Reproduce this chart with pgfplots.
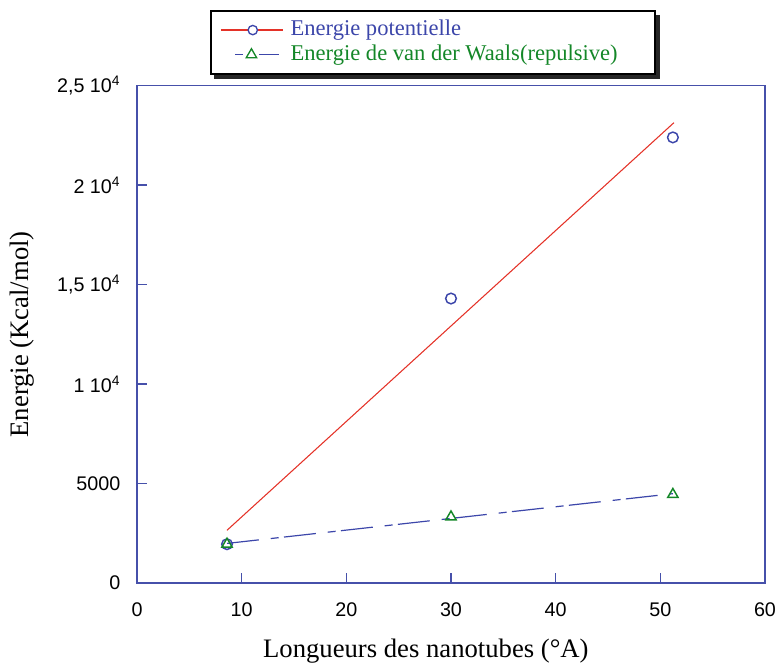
\documentclass[border=0pt]{standalone}
\usepackage{pgfplots}
\pgfplotsset{compat=1.18}
\usepackage{fontspec}
\setmainfont{Liberation Serif}
\newfontfamily\arialf{Liberation Sans}
\usetikzlibrary{backgrounds}
\definecolor{axblue}{RGB}{70,80,170}
\definecolor{mblue}{RGB}{60,70,170}
\definecolor{mgreen}{RGB}{20,135,40}
\definecolor{lred}{RGB}{228,50,40}
\begin{document}
\begin{tikzpicture}
\begin{axis}[name=ax, scale only axis, width=471pt, height=373pt,
  xmin=0, xmax=60, ymin=0, ymax=25000,
  xtick={0,10,20,30,40,50,60},
  xticklabels={0,10,20,30,40,50,60},
  ytick={0,5000,10000,15000,20000,25000},
  yticklabels={0,5000,{1 10\textsuperscript{4}},{1,5 10\textsuperscript{4}},{2 10\textsuperscript{4}},{2,5 10\textsuperscript{4}}},
  scaled ticks=false,
  tick label style={font=\arialf\fontsize{14.8}{17}\selectfont, text=black},
  xticklabel style={yshift=-11pt},
  yticklabel style={xshift=-9pt},
  axis line style={axblue, line width=1.1pt},
  tick style={axblue, line width=1.1pt},
  major tick length=7.5pt,
  tick align=inside, xtick pos=left, ytick pos=left,
  every axis x label/.style={at={(axis description cs:0.46,-0.136)}, anchor=center},
  every axis y label/.style={at={(axis description cs:-0.183,0.5)}, rotate=90, anchor=center},
  label style={font=\fontsize{20}{24}\selectfont},
  xlabel={Longueurs des nanotubes (°A)},
  ylabel={Energie (Kcal/mol)},
  legend style={at={(axis description cs:0.116,1.152)}, anchor=north west,
    name=leg,
    draw=black, line width=1.5pt, fill=white,
    font=\fontsize{16.9}{19}\selectfont,
    inner xsep=7pt, inner ysep=5pt,
    nodes={inner sep=1pt, text height=12.5pt, text depth=4pt},
    row sep=0pt,
    /tikz/every odd column/.append style={column sep=4pt}},
  legend cell align=left,
]
\addplot[only marks, mark=o, mark size=4pt, mark options={mblue, line width=1.1pt}, forget plot]
  coordinates {(8.6,1950) (30,14300) (51.2,22400)};
\addplot[lred, line width=0.8pt, forget plot]
  coordinates {(8.6,2650) (51.3,23140)};
\addplot[mblue, line width=0.9pt, dash pattern=on 24pt off 9pt on 6pt off 4pt, forget plot]
  coordinates {(8.6,1990) (51.2,4490)};
\addplot[only marks, mark=triangle, mark size=4.5pt, mark options={mgreen, line width=1.1pt}, forget plot]
  coordinates {(8.6,1950) (30,3320) (51.2,4450)};

\addlegendimage{legend image code/.code={
  \draw[lred, line width=0.9pt] (1pt,0pt) -- (48pt,0pt);
  \draw[mblue, line width=1pt, fill=white] (25pt,0pt) circle (3.5pt);}}
\addlegendentry{\textcolor{mblue}{Energie potentielle}}
\addlegendimage{legend image code/.code={
  \draw[mblue, line width=0.9pt] (12pt,0pt) -- (18pt,0pt);
  \draw[mblue, line width=0.9pt] (30pt,0pt) -- (45pt,0pt);
  \draw[mgreen, line width=1pt] plot[mark=triangle, mark size=4.5pt, only marks] coordinates {(24pt,0pt)};}}
\addlegendentry{\textcolor{mgreen}{Energie de van der Waals(repulsive)}\hspace*{20pt}\mbox{}}
\end{axis}
\begin{scope}[on background layer]
\fill[black!85] ([shift={(3pt,-3.5pt)}]leg.south west) rectangle ([shift={(3pt,-3.5pt)}]leg.north east);
\end{scope}
\pgfresetboundingbox
\path (ax.south west) ++(-102.75pt,-59.25pt) rectangle ++(582pt,496.5pt);
\end{tikzpicture}
\end{document}
